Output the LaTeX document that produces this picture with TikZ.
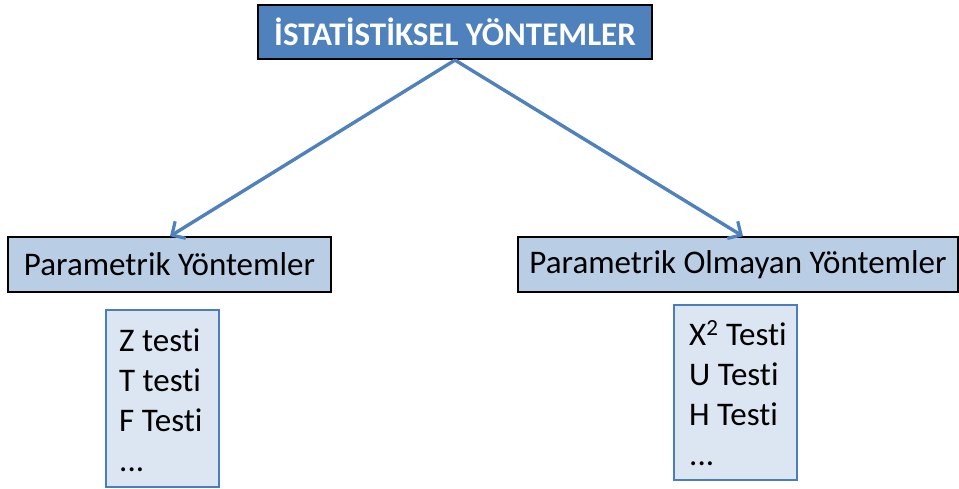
\documentclass[tikz,border=0pt]{standalone}
\usepackage{fontspec}
\setmainfont{Carlito}[Ligatures=NoCommon]
\usetikzlibrary{arrows.meta,calc}
\definecolor{topblue}{HTML}{4F81BD}
\definecolor{midblue}{HTML}{B9CDE5}
\definecolor{paleblue}{HTML}{DCE6F2}
\definecolor{edgeblue}{HTML}{4A7EBB}
\tikzset{
  titlebox/.style={draw=black, line width=2.2pt, fill=topblue, text=white,
    font=\fontsize{33}{38}\selectfont\bfseries, inner sep=0pt},
  groupbox/.style={draw=black, line width=1.5pt, fill=midblue, text=black,
    font=\fontsize{33}{38}\selectfont, inner sep=0pt},
  listbox/.style={draw=edgeblue, line width=1.8pt, fill=paleblue, inner sep=0pt},
  listitem/.style={font=\fontsize{33}{38}\selectfont, anchor=base west, inner sep=0pt},
  branch/.style={draw=topblue, line width=3.4pt,
    -{Straight Barb[length=10pt,width=20pt,line width=3.2pt]}}
}
\begin{document}
\begin{tikzpicture}[x=1pt,y=-1pt]
\useasboundingbox (0,0) rectangle (959,489);

% main heading
\node[titlebox, minimum width=394pt, minimum height=54pt] (top) at (455,32) {İSTATİSTİKSEL YÖNTEMLER};

% the two groups of methods
\node[groupbox, minimum width=323pt, minimum height=55pt] (par) at (169.5,264.5) {Parametrik Yöntemler};
\node[groupbox, minimum width=440pt, minimum height=55pt] (npar) at (738,264.5) {Parametrik Olmayan Yöntemler};

% lists of tests
\node[listbox, minimum width=113pt, minimum height=177pt] (plist) at (162.5,398.5) {};
\node[listbox, minimum width=123pt, minimum height=175pt] (nlist) at (735.5,392.5) {};

\node[listitem] (p1) at (119,351) {Z testi};
\node[listitem] (p2) at (119,391.3) {T testi};
\node[listitem] (p3) at (119,431.6) {F Testi};
\node[listitem] (p4) at (119,471.9) {...};

\node[listitem] (n1) at (689,345) {X\textsuperscript{2} Testi};
\node[listitem] (n2) at (689,385.3) {U Testi};
\node[listitem] (n3) at (689,425.6) {H Testi};
\node[listitem] (n4) at (689,465.9) {...};

% connectors
\draw[branch] (top.south) -- ($(par.north)+(0.5,0)$);
\draw[branch] (top.south) -- ($(npar.north)+(5,0)$);
\end{tikzpicture}
\end{document}
